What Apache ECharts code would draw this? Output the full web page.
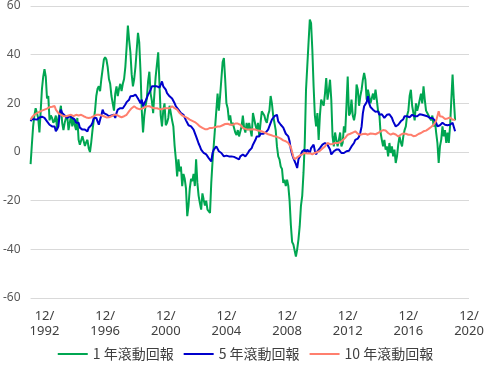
<!DOCTYPE html>
<html>
<head>
<meta charset="utf-8">
<script src="https://cdn.jsdelivr.net/npm/echarts@6/dist/echarts.min.js"></script>
<style>
html,body{margin:0;padding:0;background:#fff;}
#chart{width:491px;height:368px;}
</style>
</head>
<body>
<div id="chart"></div>
<script>
// Monthly categories Jan 1992 - Dec 2020
const startYear = 1992, endYear = 2020;
const months = [];
for (let y = startYear; y <= endYear; y++) {
  for (let m = 1; m <= 12; m++) months.push(y + '-' + (m < 10 ? '0' + m : m));
}
const seriesNames = ['1 年滾動回報', '5 年滾動回報', '10 年滾動回報'];

// 1-year rolling return (%), monthly from Jan 1992
const oneYear = [
  -5, 3, 10.5, 15, 18, 16, 14, 8, 17, 26, 31, 34,
  31, 22, 23, 13, 15, 14, 12, 13, 15, 9, 14, 16,
  19, 12, 9, 12, 14, 15, 9, 12, 15, 10.5, 14, 11,
  9, 14, 5, 3, 2.5, 6.5, 4.5, 2.5, 4, 5, 1.5, 0,
  4, 9, 13, 17, 23, 26, 27, 25, 30, 34, 38, 39,
  38, 35, 30, 28, 23, 20, 17, 24, 27, 23, 26, 28,
  25, 28, 30, 35, 43, 52, 46, 41, 32, 27, 30, 35,
  42, 49, 45, 33, 17, 8, 15, 19, 22, 29, 33, 24,
  21, 16, 24, 31, 36, 41, 28, 15, 10.5, 17, 20, 11,
  12, 14, 19, 16, 13, 10.5, 2.5, -3, -10, -3, -8, -6,
  -14, -9, -11, -15, -26.4, -22, -15, -11, -12, -9, -14, -3,
  -12.7, -18, -21, -23.7, -17, -19.6, -22, -20, -23.7, -23, -25, -12.7,
  -4, 3, 10, 17, 24, 17, 23, 30, 37, 38.6, 30, 20,
  18, 13, 15, 11, 12, 10, 8, 7, 9, 6.4, 7, 10.5,
  15, 10, 8, 12, 9, 12, 9, 6.4, 16, 15.3, 11, 9,
  12, 6.4, 12, 16.7, 16.7, 15, 13, 12, 15.3, 17, 23, 20,
  15, 12, 9, 2.3, -1.8, -3, -6, -7, -12.7, -11.4, -14, -11.4,
  -14, -20, -30, -37, -38, -38.5, -43, -40, -36, -30.5, -22, -18,
  -8.6, 3.7, 25.6, 26.3, 45, 54.4, 53, 42, 27, 15, 10.5, 16,
  5, 15, 21.5, 21.5, 19, 24, 30.4, 21.5, 25, 29.7, 21.5, 6.4,
  2.3, 8, 5, 2.3, 5, 8, 2.3, 3.7, 10.5, 8, 19, 31,
  15, 16, 21.5, 15, 13, 16, 27.7, 25.6, 19, 23, 25.6, 29.7,
  32.5, 29.7, 21.5, 25.6, 23, 20, 22, 24, 21.5, 25.6, 21.5, 17,
  16, 8, 5, 2.3, 5, 1, 2.3, -1.8, 3.7, -0.4, 2.3, -1.8,
  1, -4.5, -1.8, 3, 6.4, 4, 2.3, 6.4, 9, 10.5, 15, 17,
  23, 25.6, 19, 16, 13, 20, 17, 19, 21.5, 24, 20, 27,
  21.5, 17, 16, 15, 14, 13, 15, 10.5, 13, 8, 3.7, -4.5,
  2.3, 5, 10.5, 6.4, 9, 3.7, 8, 3.7, 10.5, 21.5, 31.8, 21.5,
  13
];

// 5-year rolling return (%), monthly from Jan 1992
const fiveYear = [
  12.6, 13.5, 14, 13.5, 13, 13.3, 14, 14.2, 14.7, 14.5, 14, 14,
  13.5, 12.6, 12, 11.2, 12, 10.5, 10, 10.5, 8.5, 9.5, 10.5, 15.3,
  17.4, 16, 15.3, 15, 14.7, 14, 14.5, 14.7, 15.3, 14, 13.3, 13.3,
  12, 12.6, 12, 10, 10, 9.2, 10, 9.2, 9, 8.5, 10, 10,
  11, 12, 14, 14, 14, 12.6, 11.2, 13.3, 15, 17.4, 16, 16,
  15.5, 15.3, 14.7, 15.3, 15, 14.7, 15.3, 14, 16, 17.4, 17.4, 18,
  17.4, 18, 18.8, 19.5, 20.5, 21, 21.5, 22.9, 22.2, 23, 23.6, 23.6,
  22.9, 22, 21, 20, 21.5, 18.8, 20, 21, 22.2, 23.6, 24.5, 25.6,
  27, 26.3, 27, 27.7, 27, 26.3, 26.5, 27.7, 29, 27, 26.3, 25.6,
  24.2, 23.6, 22.9, 22.2, 22, 21.5, 20, 18.8, 18.8, 17.4, 17.4, 16,
  15.8, 15.3, 14.5, 13, 12, 11, 10.5, 10.5, 10, 9.2, 8.5, 6.4,
  5, 3.5, 2.3, 1, 1, -0.4, -0.4, -1, -1.8, -2.5, -3, -3.9,
  -0.4, 1, 1.6, 2.3, 1.6, 0.3, -0.4, -0.4, -1, -1.8, -1.8, -1.5,
  -1.8, -1.8, -1.5, -1.8, -1.8, -2, -1.8, -2.5, -2.2, -3, -1.8, -2.5,
  -1, -1.8, -1.8, -1, -0.4, 0.5, 1, 1.6, 3, 3.7, 5, 6.4,
  7, 6.4, 7.5, 8, 7.5, 8, 8, 8.5, 9.2, 9.9, 12, 13.3,
  14, 14.7, 15.3, 15.3, 12.6, 12, 11.2, 10.5, 10, 9.2, 7.5, 7,
  6.4, 4.4, 1, -1, -2.5, -3, -5, -6.6, -3, -2.5, -1, 0.3,
  0.5, 1, -0.4, 1, 1.6, -0.4, 1.6, 2.3, 3, 0.5, -1, 0.3,
  0, 1.6, 2.3, 3, 3, 3.7, 3.7, 3, 2.3, 1, -1, -0.4,
  0.3, 0.5, 1, 1.6, 1, 0.3, -0.4, 0.3, -0.4, -1, 0.3, 1,
  0.5, 0.3, 2.3, 3, 3.7, 5, 5, 5.5, 6.4, 8, 10.5, 16,
  18.8, 18.8, 20.5, 22.9, 20, 18.5, 18, 17.4, 17.4, 16.5, 16, 16.7,
  15.3, 16, 15.5, 14.7, 14, 14.5, 15.3, 16, 15.5, 14.7, 14, 12.6,
  12, 10.5, 11, 11.2, 12, 12.6, 12.6, 13.5, 14.7, 14, 14.7, 14,
  14.3, 14.7, 15.3, 15, 14.7, 15.3, 14.7, 15.3, 15.5, 16, 15.3, 14.7,
  15, 15.3, 14.7, 14.3, 14, 13.3, 14, 14.7, 13, 12, 10.5, 11.2,
  11, 10.5, 12, 11.5, 11.2, 10.5, 11, 11.2, 11.2, 10.5, 12, 11.2,
  8.5
];

// 10-year rolling return (%), monthly from Jan 1992
const tenYear = [
  13.3, 14.2, 15, 15.3, 15.6, 16, 16.2, 16.5, 16.7, 17, 17.2, 17.4,
  17.6, 17.8, 18, 18.4, 18.8, 18.6, 18.8, 18.9, 17.4, 16.8, 16, 15.6,
  15.3, 15, 14.7, 14.5, 14.7, 14.7, 15, 15.3, 15.3, 15, 14.7, 15,
  15.3, 15.3, 15, 15.3, 15.3, 15, 14.7, 14.5, 14.2, 14, 14, 14,
  14.2, 14.5, 14.7, 15, 15.3, 15.3, 15.3, 15.3, 15, 14.7, 14.7, 14.4,
  14.2, 14, 14.3, 14.7, 14.7, 15, 15.3, 15.3, 15.3, 15.3, 14.7, 14,
  14.3, 14.5, 14.7, 15, 15.3, 16, 16.8, 17.4, 18, 18.5, 18.8, 19.5,
  18, 17.8, 17.6, 17.4, 17.8, 18, 18.2, 18.5, 18.8, 18.8, 18.8, 18.6,
  18.3, 18, 18, 18, 18, 17.8, 17.6, 17.4, 17.6, 18, 18, 18,
  18, 18, 18, 18.4, 18.8, 19.5, 18, 17.8, 17.4, 16.6, 16, 15.3,
  15, 14.7, 14.5, 14.2, 14, 13.7, 13.3, 13, 12.8, 12.6, 12.3, 12,
  11.5, 11, 10.5, 10.2, 9.9, 9.6, 9.4, 9.2, 9.4, 9.7, 9.9, 9.9,
  9.9, 10, 10.2, 10.5, 10.5, 10.5, 10.5, 10.8, 11, 11.2, 11.5, 12,
  11.6, 11.2, 11.2, 11.2, 11.2, 11.4, 11.7, 12, 11.7, 11.4, 11.2, 10.5,
  9.9, 9.7, 9.5, 9.3, 9.2, 9.2, 9.2, 9.2, 9.3, 9.2, 9.2, 9,
  8.8, 8.7, 8.6, 8.5, 8.3, 8, 7.8, 7.5, 7.3, 7.1, 7, 6.8,
  6.6, 6.4, 6.4, 6.2, 6, 5.8, 5.5, 5, 4.8, 4.6, 4.4, 4.2,
  3.7, 3, 2, 1.4, -2, -3, -2.5, -2.2, -1.8, -1.5, -1.2, -1,
  -0.8, -0.4, -0.4, -0.6, -0.4, -0.5, -0.8, -1, -0.8, -0.4, -0.2, 0,
  0.3, 0.5, 1, 1.4, 1.8, 2.3, 2.8, 3.7, 3.5, 3.2, 3, 3.3,
  3.5, 3.7, 3.7, 3.7, 3.7, 4, 4.4, 4.8, 5.3, 5.8, 6.4, 7.1,
  7.3, 7.5, 7.8, 8, 8.2, 8.5, 8, 7.5, 7.1, 7.1, 7.1, 7.4,
  7.8, 7.5, 7.3, 7.1, 7.4, 7.6, 7.8, 7.5, 7.1, 7.3, 7.6, 7.8,
  8.1, 8.5, 8.8, 9, 9.2, 8.8, 8.3, 7.8, 7.4, 7.1, 7.3, 7.6,
  7.8, 7.2, 6.8, 6.4, 6.7, 7.1, 7.4, 7.6, 7.8, 7.5, 7.2, 7.1,
  7.1, 7.1, 6.8, 6.5, 6.4, 6.7, 7.1, 7.4, 7.6, 7.8, 8.2, 8.5,
  8.5, 8.8, 9.2, 9.5, 9.9, 10.3, 10.7, 11.2, 12, 12.8, 13.3, 16.7,
  14.7, 15.5, 14.5, 14, 13.6, 13.3, 13.8, 14, 14.2, 13.8, 13.3, 13.5,
  13.3
];

const colors = ['#00A651', '#0000CC', '#FF7F6E'];
const yMin = -60, yMax = 60, yStep = 20;
const labelEvery = 48, labelOffset = 11; // show 12/1992, 12/1996, ...

const chart = echarts.init(document.getElementById('chart'), null, {renderer: 'canvas'});
const mk = (name, data, color) => ({
  name: name, type: 'line', data: data, symbol: 'none', smooth: false,
  lineStyle: {color: color, width: 2}, itemStyle: {color: color},
  emphasis: {disabled: true}, animation: false
});
chart.setOption({
  animation: false,
  grid: {left: 26, right: 22, top: 6, bottom: 70, containLabel: false},
  legend: {
    bottom: 2, left: 'center', icon: 'rect', itemWidth: 30, itemHeight: 2, itemGap: 10,
    textStyle: {fontSize: 14, color: '#404040', fontFamily: '"Noto Sans CJK TC", "Noto Sans", sans-serif'},
    data: seriesNames
  },
  xAxis: {
    type: 'category', data: months, boundaryGap: false,
    axisLine: {show: false}, axisTick: {show: false}, splitLine: {show: false},
    axisLabel: {
      interval: (idx) => idx % labelEvery === labelOffset,
      formatter: (v) => v.slice(5) + '/\n' + v.slice(0, 4),
      fontSize: 13, lineHeight: 15, color: '#404040', margin: 11,
      fontFamily: '"Noto Sans", sans-serif'
    }
  },
  yAxis: {
    type: 'value', min: yMin, max: yMax, interval: yStep,
    axisLine: {show: false}, axisTick: {show: false},
    splitLine: {lineStyle: {color: '#D9D9D9', width: 1}},
    axisLabel: {fontSize: 12, color: '#595959', margin: 10, fontFamily: '"Noto Sans", sans-serif'}
  },
  series: [
    mk(seriesNames[0], oneYear, colors[0]),
    mk(seriesNames[1], fiveYear, colors[1]),
    mk(seriesNames[2], tenYear, colors[2])
  ]
});
</script>
</body>
</html>
